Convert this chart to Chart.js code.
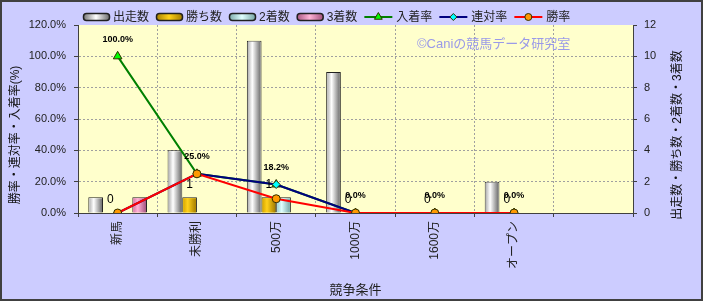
<!DOCTYPE html>
<html lang="ja">
<head>
<meta charset="utf-8">
<title>競争条件別成績</title>
<script src="https://cdn.jsdelivr.net/npm/chart.js@4.4.1/dist/chart.umd.min.js"></script>
<style>
  html, body { margin: 0; padding: 0; background: #ccccff; }
  #wrap { width: 703px; height: 301px; }
</style>
</head>
<body>
<div id="wrap"><canvas id="grafica" width="703" height="301"></canvas></div>
<script>
// data
const categories = ['新馬', '未勝利', '500万', '1000万', '1600万', 'オープン', ''];
const starters = [1, 4, 11, 9, 0, 2, null];
const wins = [0, 1, 1, 0, 0, 0, null];
const seconds = [0, 0, 1, 0, 0, 0, null];
const thirds = [1, 0, 0, 0, 0, 0, null];
const placeRate = [100, 25, 18.2, 0, 0, 0, null];
const quinellaRate = [0, 25, 18.2, 0, 0, 0, null];
const winRate = [0, 25, 9.1, 0, 0, 0, null];
const rateTicks = [0, 20, 40, 60, 80, 100, 120];
const countTicks = [0, 2, 4, 6, 8, 10, 12];

const FONT = '"Liberation Sans", "Noto Sans CJK JP", sans-serif';
const TEXT = '#222';
const AXIS = '#404040';
const GRID = '#a0a0a0';

const $grafica = document.querySelector('#grafica');

const barSet = (label, data, shade) => ({
  type: 'bar',
  label,
  data,
  yAxisID: 'yC',
  backgroundColor: shade[1],
  borderColor: '#202020',
  borderWidth: 1,
  order: 10,
  shade,
});

const lineSet = (label, data, color, pointStyle, fill, radius, order) => ({
  type: 'line',
  label,
  data,
  yAxisID: 'yP',
  borderColor: color,
  borderWidth: 2,
  tension: 0,
  pointStyle,
  pointRadius: radius,
  pointBackgroundColor: fill,
  pointBorderColor: '#303000',
  pointBorderWidth: 1,
  order,
});

const datasets = [
  barSet('出走数', starters, ['#b4b4b4', '#ffffff', '#707070']),
  barSet('勝ち数', wins, ['#d9a800', '#ffd11a', '#a67f00']),
  barSet('2着数', seconds, ['#9fd0d0', '#dfffff', '#7aa8a8']),
  barSet('3着数', thirds, ['#d97aa8', '#ffb3d6', '#a65580']),
  lineSet('入着率', placeRate, '#008000', 'triangle', '#00ff00', 5, 3),
  lineSet('連対率', quinellaRate, '#000080', 'rectRot', '#00ffff', 4, 2),
  lineSet('勝率', winRate, '#ff0000', 'circle', '#ff9900', 4, 1),
];
datasets[1].valueLabel = 'count';
datasets[4].valueLabel = 'pct';

const edgeless = (last) => (c) => (c.index === 0 || c.index === last ? 'rgba(0,0,0,0)' : GRID);

const framePlugin = {
  id: 'frame',
  beforeDraw(chart) {
    const { ctx, width, height, chartArea: a } = chart;
    ctx.save();
    ctx.fillStyle = '#ccccff';
    ctx.fillRect(0, 0, width, height);
    ctx.fillStyle = '#ffffcc';
    ctx.fillRect(a.left, a.top, a.right - a.left, a.bottom - a.top);
    ctx.strokeStyle = AXIS;
    ctx.lineWidth = 2;
    ctx.strokeRect(1, 1, width - 2, height - 2);
    ctx.restore();
  },
  beforeDatasetsDraw(chart) {
    const { ctx, chartArea: a } = chart;
    ctx.save();
    ctx.font = '13px ' + FONT;
    ctx.fillStyle = '#9a9ae8';
    ctx.textBaseline = 'middle';
    ctx.fillText('©Caniの競馬データ研究室', a.left + 339, a.top + 19);
    ctx.restore();
  },
  afterDatasetDraw(chart, args) {
    const ds = chart.data.datasets[args.index];
    if (!ds.shade) return;
    const { ctx } = chart;
    ctx.save();
    args.meta.data.forEach((bar, i) => {
      if (ds.data[i] == null) return;
      const { x, y, base, width } = bar.getProps(['x', 'y', 'base', 'width'], true);
      const h = base - y;
      if (h < 2) return;
      const l = x - width / 2 + 1;
      const r = x + width / 2 - 1;
      const g = ctx.createLinearGradient(l, 0, r, 0);
      g.addColorStop(0, ds.shade[0]);
      g.addColorStop(0.35, ds.shade[1]);
      g.addColorStop(1, ds.shade[2]);
      ctx.fillStyle = g;
      ctx.fillRect(l, y + 1, r - l, h - 1);
    });
    ctx.restore();
  },
  afterDatasetsDraw(chart) {
    const { ctx } = chart;
    ctx.save();
    ctx.textAlign = 'center';
    ctx.textBaseline = 'middle';
    ctx.fillStyle = '#000';
    chart.data.datasets.forEach((ds, di) => {
      if (!ds.valueLabel) return;
      const pct = ds.valueLabel === 'pct';
      ctx.font = (pct ? 'bold 9px ' : '12px ') + FONT;
      chart.getDatasetMeta(di).data.forEach((el, i) => {
        const v = ds.data[i];
        if (v == null) return;
        ctx.fillText(pct ? v.toFixed(1) + '%' : String(v), el.x, el.y - (pct ? 17 : 13));
      });
    });
    ctx.restore();
  },
  afterDraw(chart) {
    const { ctx, chartArea: a } = chart;
    ctx.save();
    // legend
    ctx.font = '12px ' + FONT;
    ctx.textBaseline = 'middle';
    let x = a.left + 5;
    const y = 17;
    chart.data.datasets.forEach((ds) => {
      let w;
      if (ds.type === 'bar') {
        w = 26;
        const g = ctx.createLinearGradient(x, 0, x + w, 0);
        g.addColorStop(0, ds.shade[2]);
        g.addColorStop(0.5, ds.shade[1]);
        g.addColorStop(1, ds.shade[2]);
        ctx.fillStyle = g;
        ctx.strokeStyle = '#202020';
        ctx.lineWidth = 1.5;
        ctx.beginPath();
        if (ctx.roundRect) ctx.roundRect(x + 0.5, y - 3.5, w, 7, 3);
        else ctx.rect(x + 0.5, y - 3.5, w, 7);
        ctx.fill();
        ctx.stroke();
      } else {
        w = 28;
        ctx.strokeStyle = ds.borderColor;
        ctx.lineWidth = 2;
        ctx.beginPath();
        ctx.moveTo(x, y);
        ctx.lineTo(x + w, y);
        ctx.stroke();
        ctx.fillStyle = ds.pointBackgroundColor;
        ctx.strokeStyle = ds.pointBorderColor;
        ctx.lineWidth = 1;
        Chart.helpers.drawPoint(ctx, {
          pointStyle: ds.pointStyle, radius: ds.pointRadius - 0.5, rotation: 0, borderWidth: 1,
        }, x + w / 2, y);
      }
      ctx.fillStyle = TEXT;
      ctx.fillText(ds.label, x + w + 4, y + 1);
      x += w + 4 + ctx.measureText(ds.label).width + 7;
    });
    // vertical axis titles (both read bottom to top)
    const cy = (a.top + a.bottom) / 2 + 16;
    ctx.textAlign = 'center';
    ctx.fillStyle = '#111';
    [[a.left - 62, '勝率・連対率・入着率(%)'], [a.right + 45, '出走数・勝ち数・2着数・3着数']].forEach(([tx, text]) => {
      ctx.save();
      ctx.translate(tx, cy);
      ctx.rotate(-Math.PI / 2);
      ctx.fillText(text, 0, 0);
      ctx.restore();
    });
    ctx.restore();
  },
};

// eslint-disable-next-line no-new, no-undef
new Chart($grafica, {
  type: 'bar',
  data: { labels: categories, datasets },
  options: {
    responsive: false,
    animation: false,
    layout: { padding: { top: 25, left: 0, right: 0, bottom: 0 } },
    datasets: { bar: { categoryPercentage: 0.74, barPercentage: 1 } },
    plugins: { legend: { display: false }, tooltip: { enabled: false } },
    scales: {
      x: {
        offset: true,
        grid: {
          offset: true, color: edgeless(categories.length), tickLength: 4, tickColor: AXIS, tickBorderDash: [],
        },
        border: { color: AXIS, dash: [2, 2] },
        ticks: {
          minRotation: 90, maxRotation: 90, autoSkip: false, padding: 4, color: TEXT, font: { family: FONT, size: 12 },
        },
        title: {
          display: true, text: '競争条件', color: TEXT, font: { family: FONT, size: 13 }, padding: { top: 0, bottom: 3 },
        },
        afterFit: (s) => { s.height = 88; },
      },
      yP: {
        position: 'left',
        min: 0,
        max: 120,
        afterBuildTicks: (s) => { s.ticks = rateTicks.map((v) => ({ value: v })); },
        grid: {
          color: edgeless(rateTicks.length - 1), tickLength: 4, tickColor: AXIS, tickBorderDash: [],
        },
        border: { color: AXIS, dash: [2, 2] },
        ticks: {
          callback: (v) => v.toFixed(1) + '%', padding: 8, color: TEXT, font: { family: FONT, size: 11 },
        },
        afterFit: (s) => { s.width = 78; },
      },
      yC: {
        position: 'right',
        min: 0,
        max: 12,
        afterBuildTicks: (s) => { s.ticks = countTicks.map((v) => ({ value: v })); },
        grid: {
          drawOnChartArea: false, tickLength: 4, tickColor: AXIS, tickBorderDash: [],
        },
        border: { color: AXIS },
        ticks: { padding: 7, color: TEXT, font: { family: FONT, size: 11 } },
        afterFit: (s) => { s.width = 70; },
      },
    },
  },
  plugins: [framePlugin],
});
</script>
</body>
</html>
